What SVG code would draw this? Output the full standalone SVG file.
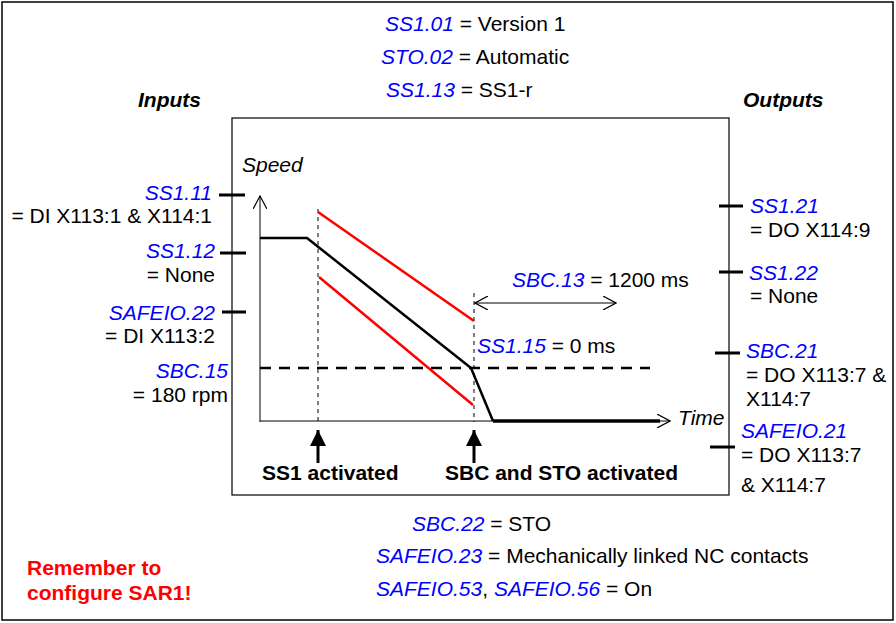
<svg xmlns="http://www.w3.org/2000/svg" width="896" height="623" viewBox="0 0 896 623">
<style>
text{font-family:"Liberation Sans",Arial,sans-serif;font-size:21px;fill:#000}
.p{fill:#0000ff;font-style:italic}
.b{font-weight:bold}
.bi{font-weight:bold;font-style:italic}
.i{font-style:italic}
.r{fill:#ff0000;font-weight:bold}
.tick{stroke:#000;stroke-width:3}
.thin{stroke:#000;stroke-width:1;fill:none}
.vd{stroke:#000;stroke-width:1;stroke-dasharray:4 4;fill:none}
.red{stroke:#ff0000;stroke-width:2.5;fill:none}
</style>
<defs>
<marker id="chev" viewBox="0 0 14 14" refX="13" refY="7" markerWidth="14" markerHeight="14" markerUnits="userSpaceOnUse" orient="auto-start-reverse">
<path d="M0,0 L13,7 L0,14" fill="none" stroke="#000" stroke-width="1.2"/>
</marker>
<marker id="tri" viewBox="0 0 16 18" refX="16" refY="8" markerWidth="16" markerHeight="18" markerUnits="userSpaceOnUse" orient="auto">
<path d="M0,0 L16,8 L0,16 Z" fill="#000"/>
</marker>
</defs>
<rect x="2" y="2" width="891" height="618" fill="#fff" stroke="#000" stroke-width="1.5"/>
<g id="top-params">
<text x="385" y="31"><tspan class="p">SS1.01</tspan> = Version 1</text>
<text x="381" y="64"><tspan class="p">STO.02</tspan> = Automatic</text>
<text x="386" y="97"><tspan class="p">SS1.13</tspan> = SS1-r</text>
</g>
<g id="headings">
<text class="bi" x="138" y="107">Inputs</text>
<text class="bi" x="743" y="107">Outputs</text>
</g>
<g id="chart-box">
<rect x="232" y="118" width="497" height="377" fill="none" stroke="#000" stroke-width="1.2"/>
</g>
<g id="inputs">
<text class="p" x="212" y="200" text-anchor="end">SS1.11</text>
<text x="212" y="223" text-anchor="end">= DI X113:1 &amp; X114:1</text>
<text class="p" x="215" y="258" text-anchor="end">SS1.12</text>
<text x="215" y="282" text-anchor="end">= None</text>
<text class="p" x="215" y="320" text-anchor="end">SAFEIO.22</text>
<text x="215" y="343" text-anchor="end">= DI X113:2</text>
<text class="p" x="228" y="378" text-anchor="end">SBC.15</text>
<text x="228" y="402" text-anchor="end">= 180 rpm</text>
</g>
<g id="outputs">
<text class="p" x="750" y="213">SS1.21</text>
<text x="750" y="237">= DO X114:9</text>
<text class="p" x="749" y="280">SS1.22</text>
<text x="750" y="303">= None</text>
<text class="p" x="746" y="358">SBC.21</text>
<text x="746" y="382">= DO X113:7 &amp;</text>
<text x="746" y="406">X114:7</text>
<text class="p" x="741" y="438">SAFEIO.21</text>
<text x="741" y="462">= DO X113:7</text>
<text x="741" y="492">&amp; X114:7</text>
</g>
<g id="connectors">
<line class="tick" x1="219" y1="195" x2="245" y2="195"/>
<line class="tick" x1="220" y1="253" x2="246" y2="253"/>
<line class="tick" x1="222" y1="312" x2="246" y2="312"/>
<line class="tick" x1="719" y1="206" x2="743" y2="206"/>
<line class="tick" x1="719" y1="272" x2="743" y2="272"/>
<line class="tick" x1="715" y1="353" x2="740" y2="353"/>
<line class="tick" x1="710" y1="447" x2="735" y2="447"/>
<line class="thin" x1="260" y1="422" x2="260" y2="196" marker-end="url(#chev)"/>
<line class="thin" x1="260" y1="421" x2="670" y2="421" marker-end="url(#chev)"/>
<line class="vd" x1="318" y1="209" x2="318" y2="422"/>
<line class="vd" x1="474" y1="293" x2="474" y2="422"/>
<line x1="260" y1="368" x2="650" y2="368" stroke="#000" stroke-width="2.5" stroke-dasharray="11 8"/>
<line class="red" x1="318" y1="212" x2="474" y2="321"/>
<line class="red" x1="319" y1="277" x2="473" y2="405"/>
<polyline points="260,238 307,238 471,368 493,421" fill="none" stroke="#000" stroke-width="2.5" stroke-linejoin="round"/>
<line x1="493" y1="421" x2="660" y2="421" stroke="#000" stroke-width="3.5"/>
<line class="thin" x1="475" y1="303" x2="616" y2="303" marker-start="url(#chev)" marker-end="url(#chev)"/>
<line x1="318" y1="463" x2="318" y2="430" stroke="#000" stroke-width="3" marker-end="url(#tri)"/>
<line x1="474" y1="463" x2="474" y2="430" stroke="#000" stroke-width="3" marker-end="url(#tri)"/>
</g>
<g id="chart-labels">
<text class="i" x="242" y="172">Speed</text>
<text class="i" x="678" y="425">Time</text>
<text x="512" y="287"><tspan class="p">SBC.13</tspan> = 1200 ms</text>
<text x="477" y="353"><tspan class="p">SS1.15</tspan> = 0 ms</text>
<text class="b" x="262" y="480">SS1 activated</text>
<text class="b" x="445" y="480">SBC and STO activated</text>
</g>
<g id="bottom-params">
<text x="412" y="531"><tspan class="p">SBC.22</tspan> = STO</text>
<text x="376" y="563"><tspan class="p">SAFEIO.23</tspan> = Mechanically linked NC contacts</text>
<text x="376" y="596"><tspan class="p">SAFEIO.53</tspan>, <tspan class="p">SAFEIO.56</tspan> = On</text>
</g>
<g id="note">
<text class="r" x="27" y="575">Remember to</text>
<text class="r" x="27" y="600">configure SAR1!</text>
</g>
</svg>
